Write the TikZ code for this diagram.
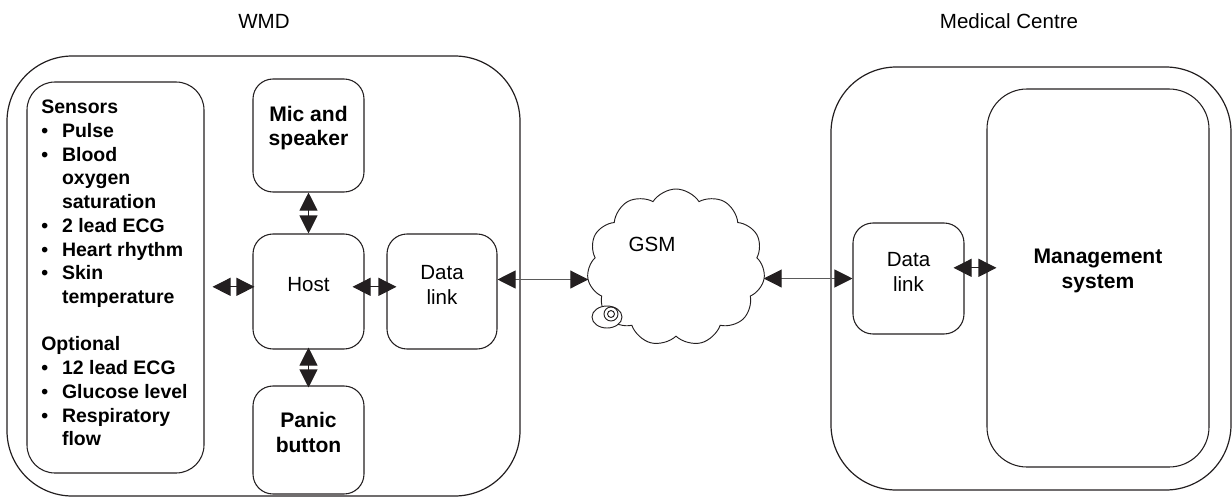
\documentclass[tikz,border=0pt]{standalone}
\usepackage{fontspec}
\setmainfont{Liberation Sans}
\usetikzlibrary{arrows.meta,fit,shapes.symbols}

\definecolor{ink}{HTML}{231F20}
\definecolor{wire}{HTML}{5A5A5A}

\tikzset{
	box/.style={draw=ink,line width=0.8pt,rounded corners=15pt,inner sep=0pt,align=center,
		font=\fontsize{15.4}{18.75}\selectfont},
	boldbox/.style={box,font=\fontsize{15.8}{18.3}\selectfont\bfseries},
	frame/.style={draw=ink,line width=0.9pt,rounded corners=49pt,inner sep=0pt},
	title/.style={font=\fontsize{15.4}{18.75}\selectfont,inner sep=0pt},
	link/.style={<->,draw=wire,line width=0.8pt},
	dbl/.style={<->,draw=ink,line width=0.8pt}
}

\begin{document}
\begin{tikzpicture}[x=0.75pt,y=-0.75pt,>={Triangle[length=13.5pt,width=13.5pt,color=ink]}]
		\useasboundingbox (0,0) rectangle (1232,497);
		% WMD side
		\node[frame,fit={(7,56) (520,496)}] (wmd) {};
		\node[title] (wmdtitle) at (264,21) {WMD};
		\node[box,rounded corners=21pt,fit={(27,82) (204,473)}] (sensors) {};
		\node[anchor=base west,inner sep=0pt,font=\fontsize{14.6}{17.8}\selectfont\bfseries] (sensorlist) at (41,113.6)
		{\begin{tabular}[t]{@{}p{15.6pt}@{}l@{}}
				\multicolumn{2}{@{}l@{}}{Sensors}\\
				\textbullet & Pulse\\
				\textbullet & Blood\\
				& oxygen\\
				& saturation\\
				\textbullet & 2 lead ECG\\
				\textbullet & Heart rhythm\\
				\textbullet & Skin\\
				& temperature\\[17.8pt]
				\multicolumn{2}{@{}l@{}}{Optional}\\
				\textbullet & 12 lead ECG\\
				\textbullet & Glucose level\\
				\textbullet & Respiratory\\
				& flow
		\end{tabular}};
		\node[boldbox,fit={(253,79) (364,192)}] (mic) {Mic and\\speaker};
		\node[box,fit={(253,234) (364,349)}] (host) {Host};
		\node[box,fit={(387,234) (497,349)}] (dlw) {Data\\link};
		\node[boldbox,fit={(253,386) (364,494)}] (panic) {Panic\\button};
		% network
		\node[cloud,cloud puffs=11,cloud puff arc=115,cloud ignores aspect,draw=ink,line width=0.7pt,
		minimum width=133.5pt,minimum height=117.75pt,inner sep=0pt] (gsm) at (676,267.5) {};
		\node[title] (gsmtext) at (652,244) {GSM};
		\draw[ink,line width=0.7pt,fill=white] (607,317) ellipse [x radius=11.25pt,y radius=8.25pt];
		\draw[ink,line width=0.7pt] (611,314) circle [radius=5.25pt] (611,314) circle [radius=2.6pt];
		% Medical Centre side
		\node[frame,fit={(831,67) (1231,490)}] (mc) {};
		\node[title] (mctitle) at (1009,21) {Medical Centre};
		\node[box,fit={(853,223) (964,334)}] (dlm) {Data\\link};
		\node[boldbox,rounded corners=30pt,fit={(987,89) (1209,467)}] (mgmt) {Management\\system};
		% connections
		\draw[dbl,shorten <=6pt,shorten >=-1.5pt] ([yshift=3.5pt]sensors.east |- host.west) -- ([yshift=3.5pt]host.west);
		\draw[dbl,shorten <=-9pt,shorten >=-7.5pt] ([yshift=3.5pt]host.east) -- ([yshift=3.5pt]dlw.west);
		\draw[dbl] (mic.south) -- (host.north);
		\draw[dbl,shorten <=-1.5pt,shorten >=-1.5pt] (host.south) -- (panic.north);
		\draw[link] ([yshift=9pt]dlw.east) -- ([yshift=9pt]dlw.east -| gsm.west);
		\draw[link] (gsm.east |- dlm.west) -- (dlm.west);
		\draw[dbl,shorten <=-8.25pt,shorten >=-7.5pt] ([yshift=8pt]dlm.east) -- ([yshift=8pt]dlm.east -| mgmt.west);
\end{tikzpicture}
\end{document}
